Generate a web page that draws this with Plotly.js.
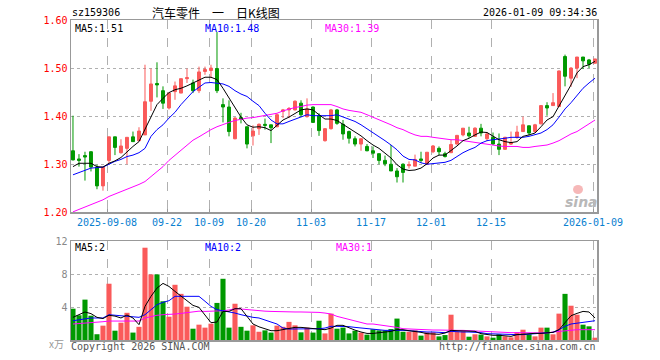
<!DOCTYPE html>
<html><head><meta charset="utf-8">
<script src="https://cdn.plot.ly/plotly-3.0.1.min.js"></script>
<style>html,body{margin:0;padding:0;background:#fff}</style>
</head><body><div id="chart" style="width:660px;height:360px"></div>
<script>
// tick labels (trading-day index of each labelled date)
const tickIdx = [6,16,23,30,40,50,60,70,87];
const tickLabels = ['2025-09-08','09-22','10-09','10-20','11-03','11-17','12-01','12-15','2026-01-09'];

// daily OHLC
const openP = [1.328,1.311,1.318,1.326,1.294,1.255,1.308,1.357,1.324,1.333,
1.357,1.349,1.361,1.431,1.468,1.453,1.417,1.451,1.448,1.478,
1.469,1.453,1.493,1.495,1.499,1.424,1.419,1.353,1.397,1.378,
1.359,1.374,1.383,1.382,1.378,1.410,1.413,1.413,1.427,1.399,
1.419,1.401,1.349,1.374,1.413,1.383,1.368,1.353,1.342,1.337,
1.328,1.322,1.308,1.300,1.286,1.300,1.297,1.296,1.311,1.300,
1.326,1.333,1.322,1.324,1.342,1.361,1.365,1.358,1.375,1.353,
1.356,1.342,1.331,1.342,1.356,1.368,1.380,1.368,1.384,1.422,
1.422,1.420,1.524,1.479,1.500,1.523,1.517,1.510];
const highP = [1.401,1.321,1.326,1.327,1.299,1.294,1.357,1.357,1.352,1.356,
1.368,1.377,1.507,1.499,1.512,1.462,1.448,1.472,1.478,1.499,
1.476,1.503,1.503,1.507,1.575,1.437,1.433,1.398,1.407,1.378,
1.381,1.385,1.395,1.382,1.405,1.415,1.419,1.433,1.433,1.437,
1.420,1.406,1.375,1.415,1.415,1.392,1.370,1.358,1.354,1.342,
1.337,1.322,1.318,1.340,1.292,1.302,1.306,1.320,1.326,1.325,
1.340,1.337,1.326,1.351,1.361,1.375,1.378,1.377,1.384,1.367,
1.366,1.364,1.357,1.368,1.380,1.399,1.380,1.384,1.423,1.429,
1.448,1.495,1.528,1.502,1.523,1.523,1.519,1.519];
const lowP = [1.308,1.295,1.266,1.285,1.248,1.245,1.302,1.319,1.322,1.300,
1.347,1.348,1.361,1.411,1.439,1.415,1.414,1.434,1.448,1.469,
1.448,1.448,1.486,1.479,1.448,1.387,1.358,1.352,1.385,1.333,
1.339,1.361,1.372,1.344,1.377,1.396,1.396,1.412,1.398,1.397,
1.387,1.359,1.347,1.372,1.382,1.351,1.343,1.337,1.328,1.327,
1.313,1.300,1.296,1.286,1.262,1.262,1.291,1.296,1.303,1.299,
1.323,1.319,1.314,1.324,1.341,1.358,1.355,1.357,1.358,1.348,
1.340,1.319,1.331,1.340,1.353,1.368,1.360,1.366,1.383,1.401,
1.422,1.419,1.462,1.461,1.479,1.498,1.500,1.510];
const closeP = [1.309,1.308,1.315,1.294,1.255,1.294,1.357,1.335,1.338,1.356,
1.347,1.369,1.430,1.467,1.465,1.427,1.448,1.463,1.478,1.480,
1.453,1.492,1.497,1.500,1.453,1.419,1.368,1.396,1.394,1.342,
1.369,1.383,1.381,1.376,1.403,1.413,1.416,1.431,1.403,1.415,
1.387,1.370,1.374,1.413,1.385,1.363,1.354,1.342,1.353,1.328,
1.323,1.308,1.301,1.286,1.274,1.283,1.299,1.310,1.308,1.325,
1.338,1.326,1.316,1.341,1.360,1.375,1.359,1.375,1.365,1.363,
1.342,1.331,1.356,1.345,1.367,1.382,1.365,1.382,1.422,1.417,
1.428,1.494,1.483,1.500,1.523,1.515,1.508,1.519];

// price moving averages as drawn
const ma5P = [1.295,1.302,1.302,1.302,1.295,1.294,1.302,1.307,1.314,1.326,
1.337,1.347,1.372,1.400,1.424,1.437,1.449,1.455,1.458,1.463,
1.469,1.476,1.481,1.481,1.476,1.458,1.437,1.417,1.398,1.382,
1.377,1.378,1.376,1.370,1.382,1.392,1.398,1.406,1.413,1.415,
1.413,1.403,1.394,1.394,1.391,1.383,1.375,1.368,1.359,1.349,
1.340,1.333,1.323,1.313,1.299,1.290,1.287,1.288,1.292,1.301,
1.313,1.319,1.319,1.328,1.338,1.349,1.354,1.361,1.367,1.366,
1.358,1.351,1.347,1.345,1.347,1.358,1.361,1.365,1.378,1.392,
1.399,1.420,1.444,1.465,1.490,1.503,1.507,1.514];
const ma10P = [1.278,1.283,1.288,1.292,1.293,1.294,1.300,1.306,1.310,1.316,
1.319,1.324,1.333,1.358,1.372,1.382,1.396,1.408,1.424,1.437,
1.451,1.460,1.469,1.470,1.469,1.467,1.462,1.453,1.446,1.441,
1.431,1.422,1.406,1.392,1.384,1.384,1.389,1.394,1.398,1.403,
1.401,1.401,1.401,1.401,1.403,1.398,1.394,1.389,1.382,1.374,
1.365,1.358,1.349,1.340,1.330,1.317,1.310,1.309,1.303,1.300,
1.301,1.302,1.304,1.308,1.316,1.324,1.330,1.335,1.344,1.349,
1.351,1.352,1.354,1.356,1.356,1.356,1.358,1.361,1.365,1.372,
1.382,1.398,1.415,1.428,1.444,1.458,1.469,1.479];
const ma30P = [1.201,1.206,1.210,1.215,1.220,1.226,1.233,1.238,1.242,1.248,
1.253,1.258,1.264,1.274,1.285,1.295,1.308,1.319,1.330,1.340,
1.350,1.357,1.365,1.372,1.378,1.383,1.387,1.391,1.394,1.396,
1.397,1.399,1.401,1.403,1.406,1.411,1.415,1.418,1.420,1.423,
1.424,1.424,1.423,1.424,1.420,1.415,1.412,1.410,1.408,1.403,
1.398,1.392,1.387,1.382,1.376,1.372,1.366,1.361,1.358,1.358,
1.356,1.354,1.352,1.351,1.351,1.349,1.347,1.346,1.344,1.342,
1.340,1.338,1.337,1.337,1.337,1.335,1.335,1.337,1.338,1.340,
1.344,1.349,1.356,1.363,1.368,1.376,1.384,1.392];

// volume (x万) and its moving averages
const volume = [3.8,3.0,4.9,2.95,0.7,1.74,6.83,1.13,2.1,3.3,
0.9,1.6,11.2,7.96,7.96,4.7,2.83,6.7,5.6,4.04,
1.37,1.86,1.5,1.98,4.5,7.43,1.5,4.4,1.6,1.13,
1.78,1.0,1.17,0.9,1.74,1.6,2.2,1.78,0.93,1.5,
0.9,2.34,0.8,3.2,1.37,1.5,0.8,1.13,0.9,0.65,
1.3,1.17,1.17,1.33,2.6,1.0,1.0,1.17,0.53,0.93,
0.93,0.44,0.6,3.07,1.0,1.05,0.4,0.69,0.65,0.44,
0.28,0.69,0.44,0.32,0.93,1.25,0.69,0.44,1.5,1.5,
0.69,3.2,5.6,4.16,3.07,1.86,1.66,0.28];
const ma5V = [2.75,3.07,3.4,3.2,2.75,2.6,3.0,2.9,2.67,3.03,
2.67,1.86,4.08,5.3,6.3,6.87,6.5,5.9,5.3,4.77,
4.2,3.96,3.0,2.1,2.18,3.47,3.47,3.8,3.8,2.87,
1.94,1.6,1.33,1.13,1.13,1.25,1.45,1.53,1.53,1.45,
1.33,1.33,1.25,1.45,1.78,1.78,1.45,1.2,0.97,0.8,
0.8,0.9,0.97,1.05,1.25,1.25,1.13,1.05,0.93,0.77,
0.73,0.69,0.85,1.17,1.13,1.09,1.09,1.05,0.77,0.65,
0.57,0.57,0.53,0.44,0.65,0.73,0.77,0.81,0.81,0.85,
0.93,1.25,2.14,2.95,3.23,3.47,3.4,2.67];
const ma10V = [2.34,2.46,2.6,2.67,2.67,2.67,3.07,3.0,2.95,2.95,
2.87,2.75,3.07,3.68,4.28,4.57,4.77,5.3,5.3,5.3,
5.3,5.3,4.7,4.08,3.68,3.55,3.47,3.27,3.07,2.87,
2.75,2.67,2.46,2.18,1.94,1.45,1.33,1.33,1.33,1.33,
1.37,1.37,1.45,1.66,1.66,1.66,1.62,1.53,1.45,1.37,
1.25,1.17,1.17,1.17,1.2,1.17,1.13,1.05,1.0,0.97,
0.97,0.93,0.89,1.05,0.97,0.97,0.97,0.97,0.89,0.77,
0.73,0.77,0.73,0.65,0.65,0.65,0.69,0.73,0.8,0.89,
0.93,1.25,1.66,1.94,2.06,2.18,2.26,2.34];
const ma30V = [1.94,1.98,2.02,2.06,2.14,2.22,2.3,2.3,2.3,2.3,
2.3,2.3,2.67,2.87,3.0,3.07,3.07,3.15,3.23,3.35,
3.47,3.5,3.47,3.47,3.47,3.55,3.64,3.8,3.76,3.68,
3.6,3.55,3.5,3.47,3.43,3.4,3.4,3.4,3.4,3.4,
3.4,3.35,3.27,3.15,2.87,2.67,2.46,2.26,2.06,1.94,
1.94,1.86,1.78,1.7,1.53,1.37,1.33,1.25,1.25,1.25,
1.21,1.21,1.17,1.17,1.17,1.17,1.13,1.13,1.05,0.97,
0.93,0.89,0.89,0.89,0.89,0.89,0.85,0.85,0.85,0.85,
0.97,1.05,1.13,1.21,1.25,1.25,1.29,1.25];

const priceTicks = [1.2,1.3,1.4,1.5,1.6];
const volTicks = [4,8,12];

const RED = '#fa5a5a', GREEN = '#009900';
const MONO = 'DejaVu Sans Mono';
const idx = closeP.map((_, i) => i);
const volColors = closeP.map((c, i) => c >= openP[i] ? RED : GREEN);
const tickPos = tickIdx.map(i => i - 0.33);

const line = (y, color, xa, ya) => ({type:'scatter', mode:'lines', x:idx, y:y, xaxis:xa, yaxis:ya,
  line:{color:color, width:1}, hoverinfo:'skip', showlegend:false});

const traces = [
  line(ma30P, '#ff00ff', 'x', 'y'),
  {type:'candlestick', x:idx, open:openP, high:highP, low:lowP, close:closeP, xaxis:'x', yaxis:'y',
   increasing:{line:{color:RED, width:1}, fillcolor:RED},
   decreasing:{line:{color:GREEN, width:1}, fillcolor:GREEN},
   whiskerwidth:0, hoverinfo:'skip', showlegend:false},
  line(ma10P, '#0000ff', 'x', 'y'),
  line(ma5P, '#000000', 'x', 'y'),
  {type:'bar', x:idx, y:volume, xaxis:'x2', yaxis:'y2', width:0.85,
   marker:{color:volColors, line:{width:0}}, hoverinfo:'skip', showlegend:false},
  line(ma30V, '#ff00ff', 'x2', 'y2'),
  line(ma10V, '#0000ff', 'x2', 'y2'),
  line(ma5V, '#000000', 'x2', 'y2')
];

const xBase = {range:[-0.33, 87.33], tickmode:'array', tickvals:tickPos, ticktext:tickLabels,
  showgrid:true, gridcolor:'#b0b0b0', griddash:'dash', gridwidth:1, zeroline:false,
  showline:true, mirror:true, linecolor:'#999999', linewidth:1.5, fixedrange:true};

const ann = (text, x, y, color, xanchor, size, family) => ({text:text, x:x, y:y, xref:'paper', yref:'paper',
  xanchor:xanchor||'left', yanchor:'middle', showarrow:false,
  font:{family:family||MONO, size:size||10, color:color}});
const px = v => (v - 71) / 526;       // pixel x -> paper
const py = v => (340 - v) / 320;      // pixel y -> paper

const layout = {
  width:660, height:360, margin:{l:71, r:63, t:20, b:20},
  paper_bgcolor:'#ffffff', plot_bgcolor:'#ffffff', showlegend:false, dragmode:false,
  boxgap:0.3,
  xaxis: Object.assign({}, xBase, {anchor:'y', domain:[0,1], rangeslider:{visible:false},
    ticks:'inside', ticklen:3, tickcolor:'#999999',
    tickfont:{family:MONO, size:10, color:'#0a80d0'}}),
  yaxis: {domain:[0.399,1], range:[1.2,1.6], tickmode:'array', tickvals:priceTicks,
    ticktext:priceTicks.map(v => v.toFixed(2)), tickfont:{family:MONO, size:10, color:'#ff0000'},
    showgrid:true, gridcolor:'#b0b0b0', griddash:'dot', zeroline:false,
    showline:true, mirror:true, linecolor:'#999999', linewidth:1.5, ticks:'', fixedrange:true},
  xaxis2: Object.assign({}, xBase, {anchor:'y2', domain:[0,1], showticklabels:false, ticks:''}),
  yaxis2: {domain:[0,0.309], range:[0,12], tickmode:'array', tickvals:volTicks,
    ticktext:volTicks.map(String), tickfont:{family:MONO, size:10, color:'#888888'},
    showgrid:true, gridcolor:'#b0b0b0', griddash:'dot', zeroline:false,
    showline:true, mirror:true, linecolor:'#999999', linewidth:1.5, ticks:'', fixedrange:true},
  shapes: [
    {type:'circle', xref:'paper', yref:'paper', x0:px(573), x1:px(583), y0:py(194), y1:py(185),
     fillcolor:'#f6b8b8', line:{width:0}, layer:'below'}
  ],
  annotations: [
    ann('sz159306', px(70), py(13), '#000000', 'left', 10),
    ann('汽车零件　一　日K线图', px(150), py(13), '#000000', 'left', 12, 'Noto Sans CJK SC'),
    ann('2026-01-09 09:34:36', px(599), py(13), '#000000', 'right', 10),
    ann('MA5:' + ma5P[ma5P.length-1].toFixed(2), px(73), py(28), '#000000'),
    ann('MA10:' + ma10P[ma10P.length-1].toFixed(2), px(203), py(28), '#0000ff'),
    ann('MA30:' + ma30P[ma30P.length-1].toFixed(2), px(323), py(28), '#ff00ff'),
    ann('MA5:' + Math.floor(ma5V[ma5V.length-1]), px(73), py(247), '#000000'),
    ann('MA10:' + Math.floor(ma10V[ma10V.length-1]), px(203), py(247), '#0000ff'),
    ann('MA30:' + Math.floor(ma30V[ma30V.length-1]), px(334), py(247), '#ff00ff'),
    ann('x万', px(66), py(343), '#999999', 'right', 10, 'Noto Sans CJK SC'),
    ann('Copyright 2026 SINA.COM', px(69), py(346), '#555555', 'left', 10),
    ann('http://finance.sina.com.cn', px(598), py(346), '#555555', 'right', 10),
    {text:'<b><i>sina</i></b>', x:px(581), y:py(202), xref:'paper', yref:'paper', xanchor:'center', yanchor:'middle',
     showarrow:false, font:{family:'DejaVu Sans', size:14, color:'#b8b8b8'}}
  ]
};

Plotly.newPlot('chart', traces, layout, {staticPlot:true, displayModeBar:false});
</script>
</body></html>
